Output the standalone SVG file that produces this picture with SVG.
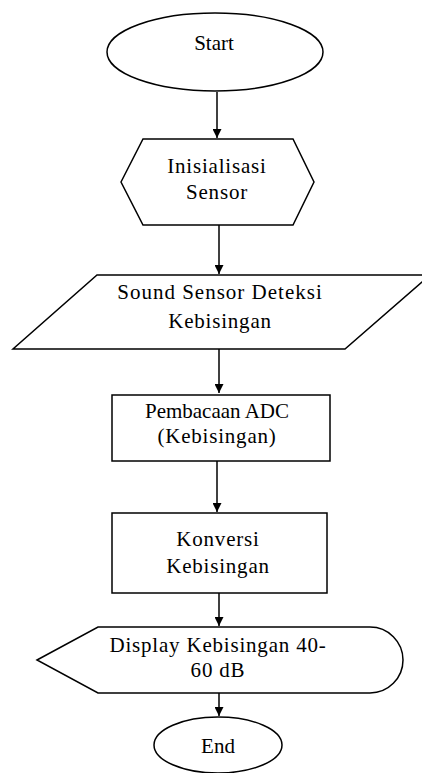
<svg xmlns="http://www.w3.org/2000/svg" width="422" height="773" viewBox="0 0 422 773">
<defs>
<style>
.s{fill:#fff;stroke:#000;stroke-width:1.5}
.t{font-family:"Liberation Serif","Times New Roman",serif;font-size:21px;fill:#000;text-anchor:middle;letter-spacing:0.8px}
.n{letter-spacing:0}
.c{stroke:#000;stroke-width:1.5;fill:none}
</style>
<marker id="ah" viewBox="0 0 10 10" refX="10" refY="5" markerWidth="6" markerHeight="6" markerUnits="strokeWidth" orient="auto">
<path d="M0,0 L10,5 L0,10 Z" fill="#000"/>
</marker>
</defs>
<rect width="422" height="773" fill="#fff"/>
<g id="connectors">
<line class="c" x1="217" y1="92" x2="217" y2="138" marker-end="url(#ah)"/>
<line class="c" x1="219" y1="225" x2="219" y2="274" marker-end="url(#ah)"/>
<line class="c" x1="219" y1="349" x2="219" y2="393" marker-end="url(#ah)"/>
<line class="c" x1="217" y1="461" x2="217" y2="512" marker-end="url(#ah)"/>
<line class="c" x1="219" y1="593" x2="219" y2="626" marker-end="url(#ah)"/>
<line class="c" x1="219" y1="693" x2="219" y2="716" marker-end="url(#ah)"/>
</g>
<g id="start">
<ellipse class="s" cx="215" cy="52" rx="108" ry="39"/>
<text class="t n" x="214" y="50">Start</text>
</g>
<g id="init">
<path class="s" d="M121,182 L143,139 L293,139 L314,182 L293,225 L143,225 Z"/>
<text class="t" x="217" y="173">Inisialisasi</text>
<text class="t" x="217" y="199">Sensor</text>
</g>
<g id="sensor">
<path class="s" d="M97,275 L430,275 L345,349 L13,349 Z"/>
<text class="t" x="220" y="299" style="letter-spacing:1px">Sound Sensor Deteksi</text>
<text class="t" x="220" y="328">Kebisingan</text>
</g>
<g id="adc">
<rect class="s" x="112" y="395" width="218" height="66"/>
<text class="t n" x="217" y="418">Pembacaan ADC</text>
<text class="t" x="217" y="443">(Kebisingan)</text>
</g>
<g id="konversi">
<rect class="s" x="112" y="513" width="215" height="80"/>
<text class="t" x="218" y="546">Konversi</text>
<text class="t" x="218" y="573">Kebisingan</text>
</g>
<g id="display">
<path class="s" d="M37,660 L98,627 L370,627 A33,33 0 0 1 370,693 L98,693 Z"/>
<text class="t" x="218" y="652">Display Kebisingan 40-</text>
<text class="t" x="218" y="677">60 dB</text>
</g>
<g id="end">
<ellipse class="s" cx="218" cy="745" rx="64" ry="28"/>
<text class="t n" x="218" y="753">End</text>
</g>
</svg>
